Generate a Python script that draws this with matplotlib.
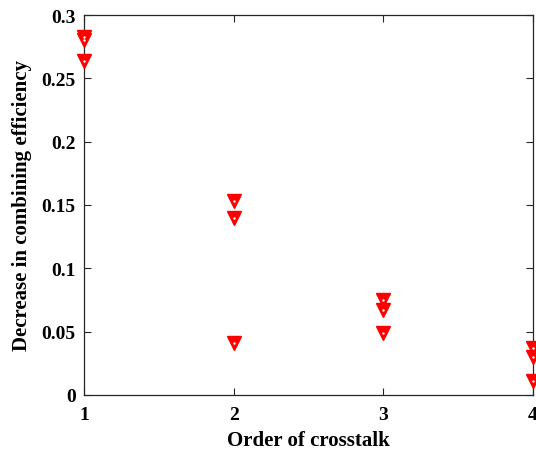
import matplotlib
matplotlib.use('Agg')
import matplotlib.pyplot as plt

# Data
order = [1, 1, 1, 2, 2, 2, 3, 3, 3, 4, 4, 4]
decrease = [0.283, 0.280, 0.264, 0.153, 0.140, 0.041, 0.075, 0.067, 0.049, 0.037, 0.030, 0.011]

x_ticks = [1, 2, 3, 4]
y_ticks = [0, 0.05, 0.1, 0.15, 0.2, 0.25, 0.3]
y_tick_labels = ['0', '0.05', '0.1', '0.15', '0.2', '0.25', '0.3']

plt.rcParams['font.family'] = ['Liberation Serif', 'DejaVu Serif']
plt.rcParams['font.weight'] = 'bold'

fig = plt.figure(figsize=(5.36, 4.52), dpi=100)
ax = fig.add_axes([0.1567, 0.1239, 0.8377, 0.8407])

ax.plot(order, decrease, linestyle='none', marker='v', markersize=10.5,
        markerfacecolor='red', markeredgecolor='red', zorder=5, clip_on=False)
ax.plot(order, decrease, linestyle='none', marker='.', markersize=1.5,
        color='white', zorder=6, clip_on=False)

ax.set_xlim(1, 4)
ax.set_ylim(0, 0.3)
ax.set_xticks(x_ticks)
ax.set_xticklabels([str(t) for t in x_ticks])
ax.set_yticks(y_ticks)
ax.set_yticklabels(y_tick_labels)

ax.tick_params(direction='in', length=5, width=0.8, top=True, right=True,
               labelsize=14, colors='#262626', labelcolor='black')
ax.tick_params(axis='y', pad=6)
ax.tick_params(axis='x', pad=8)
for s in ax.spines.values():
    s.set_color('#262626')
    s.set_linewidth(0.9)

ax.set_xlabel('Order of crosstalk', fontsize=15, fontweight='bold', labelpad=5)
ax.set_ylabel('Decrease in combining efficiency', fontsize=15, fontweight='bold', labelpad=7)

fig.savefig('out.png', dpi=100)
